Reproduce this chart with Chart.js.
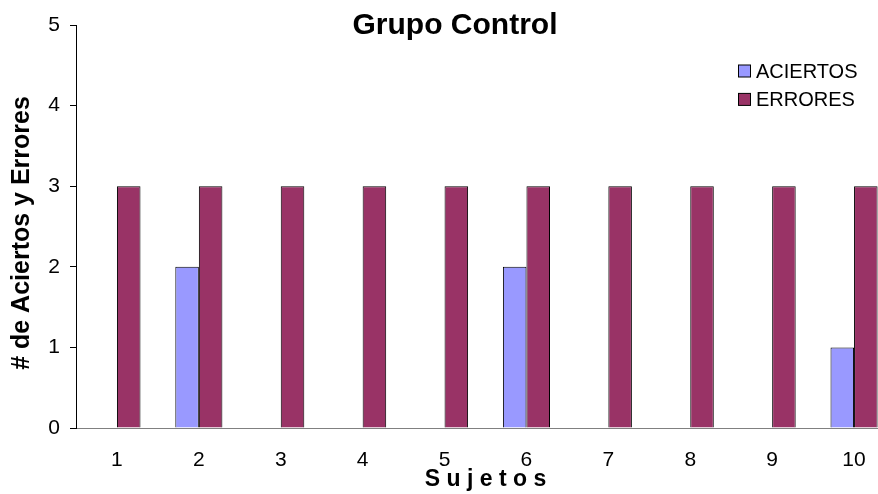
<!DOCTYPE html>
<html>
<head>
<meta charset="utf-8">
<script src="https://cdn.jsdelivr.net/npm/chart.js@4.4.0/dist/chart.umd.min.js"></script>
<style>
  html, body { margin: 0; padding: 0; background: #fff; overflow: hidden; }
  #wrap { width: 878px; height: 494px; overflow: hidden; }
</style>
</head>
<body>
<div id="wrap"><canvas id="myChart" width="900" height="494"></canvas></div>
<script>
// data
var sujetos = ["1", "2", "3", "4", "5", "6", "7", "8", "9", "10"];
var aciertos = [0, 2, 0, 0, 0, 2, 0, 0, 0, 1];
var errores = [3, 3, 3, 3, 3, 3, 3, 3, 3, 3];
var seriesNames = ["ACIERTOS", "ERRORES"];
var seriesColors = ["#9999FF", "#993366"];

var FONT = "'Liberation Sans', Arial, sans-serif";

// title + y axis title drawn by hand, the excel export puts them over the plot
var titlePlugin = {
    id: "grupoTitle",
    afterDraw: function (chart) {
        var c = chart.ctx;
        c.save();
        c.fillStyle = "#000";
        c.font = "bold 30px " + FONT;
        c.textAlign = "center";
        c.textBaseline = "alphabetic";
        c.fillText("Grupo Control", 455, 34);

        c.translate(22, 233);
        c.rotate(-Math.PI / 2);
        c.font = "bold 25px " + FONT;
        c.textBaseline = "middle";
        c.fillText("# de Aciertos y Errores", 0, 0);
        c.restore();
    }
};

// legend in the top right corner of the plot
var legendPlugin = {
    id: "sideLegend",
    afterDraw: function (chart) {
        var c = chart.ctx;
        c.save();
        c.font = "20px " + FONT;
        c.textBaseline = "middle";
        chart.data.datasets.forEach(function (ds, i) {
            var y = 71 + i * 28.4;
            c.fillStyle = ds.backgroundColor;
            c.fillRect(738.5, y - 6, 12, 12);
            c.strokeStyle = "#000";
            c.lineWidth = 1;
            c.strokeRect(738.5, y - 6, 12, 12);
            c.fillStyle = "#000";
            c.fillText(ds.label, 756, y + 1);
        });
        c.restore();
    }
};

var ctx = document.getElementById("myChart");
var myChart = new Chart(ctx, {
    type: "bar",
    data: {
        labels: sujetos,
        datasets: [
            {
                label: seriesNames[0],
                data: aciertos,
                backgroundColor: seriesColors[0],
                borderColor: "#000",
                borderWidth: function (c) { return c.raw === 0 ? 0 : 1; },
                borderSkipped: "bottom"
            },
            {
                label: seriesNames[1],
                data: errores,
                backgroundColor: seriesColors[1],
                borderColor: "#000",
                borderWidth: 1,
                borderSkipped: "bottom"
            }
        ]
    },
    options: {
        responsive: false,
        animation: false,
        devicePixelRatio: 1,
        barPercentage: 1,
        categoryPercentage: 0.575,
        layout: { padding: { top: 25, left: 0, right: 5, bottom: 0 } },
        plugins: {
            legend: { display: false },
            title: { display: false },
            tooltip: { enabled: false }
        },
        scales: {
            x: {
                grid: { display: false },
                border: { color: "#808080", width: 1 },
                ticks: {
                    color: "#000",
                    font: { family: FONT, size: 21 },
                    padding: 12,
                    maxRotation: 0
                },
                title: {
                    display: true,
                    text: "S u j e t o s",
                    color: "#000",
                    font: { family: FONT, size: 23, weight: "bold" },
                    padding: { top: 0, bottom: 1 }
                },
                afterFit: function (s) { s.height = 66; }
            },
            y: {
                min: 0,
                max: 5,
                grid: {
                    drawOnChartArea: false,
                    drawTicks: true,
                    tickLength: 6,
                    color: "#000"
                },
                border: { color: "#000", width: 1 },
                ticks: {
                    stepSize: 1,
                    color: "#000",
                    font: { family: FONT, size: 21 },
                    padding: 10
                },
                afterFit: function (s) { s.width = 76; }
            }
        }
    },
    plugins: [titlePlugin, legendPlugin]
});
</script>
</body>
</html>
